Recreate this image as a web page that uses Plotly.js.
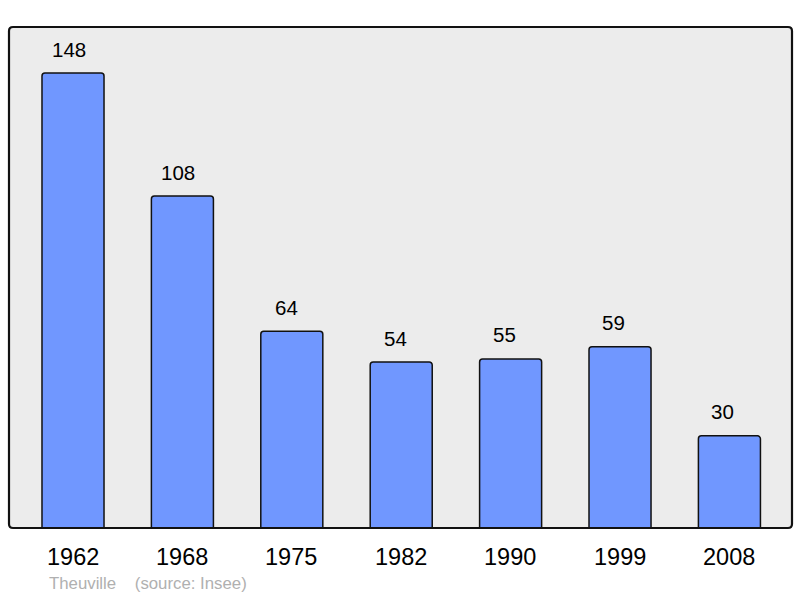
<!DOCTYPE html>
<html><head><meta charset="utf-8">
<script src="https://cdn.plot.ly/plotly-3.0.1.min.js"></script>
<style>html,body{margin:0;padding:0;background:#fff;}#chart{width:800px;height:598px;}</style>
</head><body><div id="chart"></div>
<script>
const years = ["1962","1968","1975","1982","1990","1999","2008"];
const population = [148,108,64,54,55,59,30];
const commune = "Theuville";
const source = "(source: Insee)";

const valueLabels = years.map((y,i)=>({
  x: i, y: population[i], xref:'x', yref:'y', text: String(population[i]),
  showarrow:false, yanchor:'middle', yshift:24, xshift: -4 - 0.45*i,
  font:{family:'Liberation Sans, Arial, sans-serif', size:20.5, color:'#000'}
}));
const yearLabels = years.map((y,i)=>({
  x: i, y: 0, xref:'x', yref:'paper', text: y, showarrow:false,
  yanchor:'middle', yshift:-29, xshift:-0.5,
  font:{family:'Liberation Sans, Arial, sans-serif', size:23.5, color:'#000'}
}));
const footer = {
  x: 0, y: 0, xref:'paper', yref:'paper', xanchor:'left', yanchor:'middle',
  xshift: 38, yshift:-55, showarrow:false,
  text: commune + '\u00a0\u00a0\u00a0\u00a0' + source,
  font:{family:'Liberation Sans, Arial, sans-serif', size:16.8, color:'#b0b0b0'}
};

const trace = {
  type:'bar', x: years, y: population,
  marker:{color:'#7097ff', line:{color:'#111', width:1.5}, cornerradius:3},
  hoverinfo:'none'
};

// rounded frame (radius ~4px) in paper units
const W = 800-9-8, H = 598-27-70, r = 4;
const rx = r/W, ry = r/H;
const framePath = `M ${rx},0 L ${1-rx},0 Q 1,0 1,${ry} L 1,${1-ry} Q 1,1 ${1-rx},1 L ${rx},1 Q 0,1 0,${1-ry} L 0,${ry} Q 0,0 ${rx},0 Z`;

const layout = {
  width:800, height:598,
  margin:{l:9, r:8, t:27, b:70},
  paper_bgcolor:'#ffffff', plot_bgcolor:'#ececec',
  bargap:0.433,
  showlegend:false,
  xaxis:{type:'category', range:[-0.585, 6.572], showticklabels:false, showgrid:false, zeroline:false, showline:false, ticks:''},
  yaxis:{range:[0,163], showticklabels:false, showgrid:false, zeroline:false, showline:false, ticks:''},
  shapes:[{type:'path', xref:'paper', yref:'paper',
    path: framePath, line:{color:'#111', width:2.2}, fillcolor:'rgba(0,0,0,0)', layer:'above'}],
  annotations: valueLabels.concat(yearLabels).concat([footer])
};
Plotly.newPlot('chart',[trace],layout,{displayModeBar:false, staticPlot:true});
</script></body></html>
